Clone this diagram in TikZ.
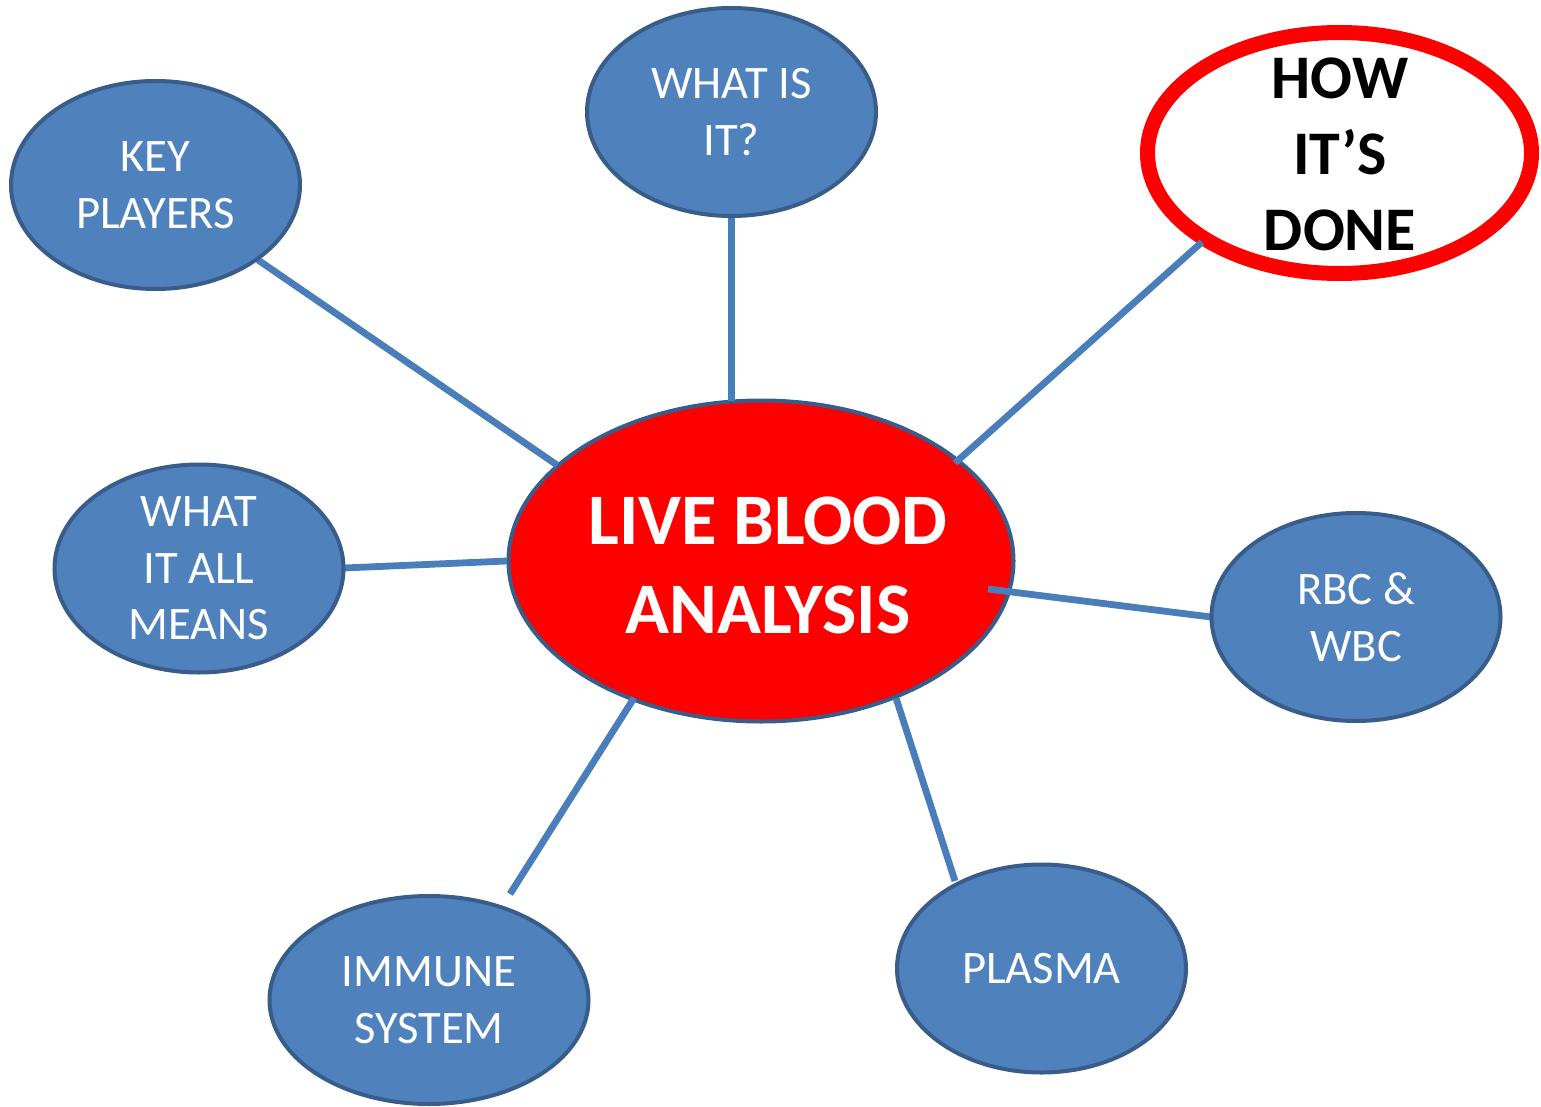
\documentclass[tikz,border=0pt]{standalone}
\usepackage{fontspec}
\setmainfont{Carlito}
\usetikzlibrary{shapes.geometric,calc}
\definecolor{bfill}{HTML}{4F81BD}
\definecolor{bline}{HTML}{385D8A}
\definecolor{cline}{HTML}{4A7EBB}
\pgfdeclarelayer{bottom}
\pgfdeclarelayer{mid}
\pgfsetlayers{bottom,mid,main}
\begin{document}
\begin{tikzpicture}[x=0.5pt,y=-0.5pt,
  bub/.style={ellipse, draw=bline, line width=2pt, fill=bfill, text=white,
    inner sep=0pt, outer sep=0pt, align=center,
    minimum width=144.5pt, minimum height=104pt,
    font=\fontsize{23.3}{28.3}\selectfont},
  conn/.style={draw=cline, line width=3.4pt}]
\useasboundingbox (0,0) rectangle (1541,1107);
\begin{pgfonlayer}{bottom}
\node[ellipse, draw=bline, line width=2pt, fill=red, inner sep=0pt,
  outer sep=0pt, minimum width=252.5pt, minimum height=160.5pt] (lba) at (761,561) {};
\node[ellipse, draw=red, line width=7.5pt, fill=white, inner sep=0pt,
  outer sep=0pt, minimum width=192pt, minimum height=120.5pt] (how) at (1339.5,153) {};
\end{pgfonlayer}
\node[text=white, align=center, inner sep=0pt,
  font=\fontsize{36.3}{44.5}\selectfont\bfseries] (lbatext) at (768,565) {LIVE BLOOD\\ANALYSIS};
\node[text=black, align=center, inner sep=0pt,
  font=\fontsize{31}{38}\selectfont\bfseries] (howtext) at (1340,154) {HOW\\IT’S\\DONE};
\node[bub] (kp) at (155.5,185) {KEY\\PLAYERS};
\node[bub] (wii) at (731.5,112) {WHAT IS\\IT?};
\node[bub] (wiam) at (199,568.5) {WHAT\\IT ALL\\MEANS};
\node[bub] (rbc) at (1356,617) {RBC \&\\WBC};
\node[bub, minimum width=159.5pt] (imm) at (429,1000) {IMMUNE\\SYSTEM};
\node[bub] (pla) at (1041.5,968.5) {PLASMA};
\begin{pgfonlayer}{mid}
\draw[conn] ($(kp.center)+(102.5,75)$) -- ($(lba.center)+(-204,-96)$);
\draw[conn] ($(wii.center)+(0,104)$) -- ($(lba.center)+(-29.5,-160)$);
\draw[conn] ($(how.center)+(-137.5,89)$) -- ($(lba.center)+(194,-98)$);
\draw[conn] ($(wiam.center)+(145,-0.5)$) -- ($(lba.center)+(-254,0)$);
\draw[conn] ($(lba.center)+(227,28)$) -- ($(rbc.center)+(-145,0)$);
\draw[conn] ($(lba.center)+(-127,137)$) -- ($(imm.center)+(81,-106)$);
\draw[conn] ($(lba.center)+(135,137)$) -- ($(pla.center)+(-86.5,-87.5)$);
\end{pgfonlayer}
\end{tikzpicture}
\end{document}
